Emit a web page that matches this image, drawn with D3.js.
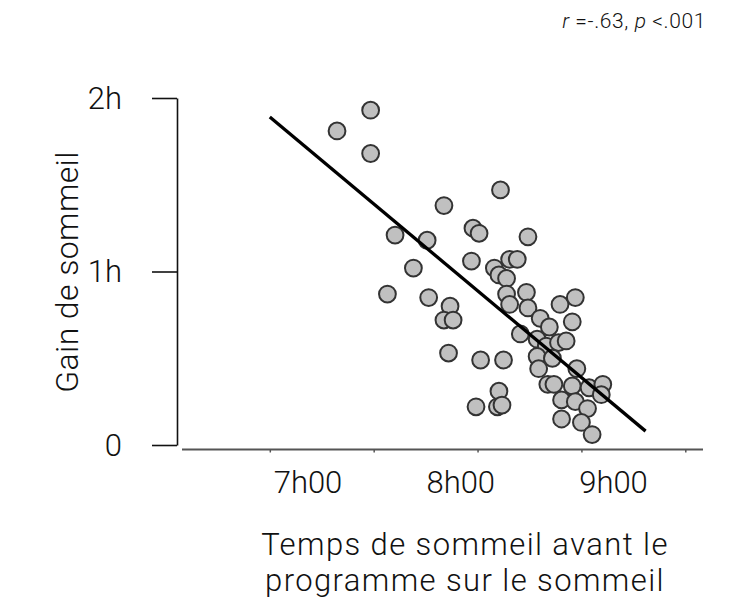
<!DOCTYPE html>
<html>
<head>
<meta charset="utf-8">
<script src="https://cdn.jsdelivr.net/npm/d3@7"></script>
<style>
  body { margin: 0; background: #fff; }
  svg { font-family: Roboto, "Liberation Sans", sans-serif; font-weight: 300; }
</style>
</head>
<body>
<div id="chart"></div>
<script>
// sleep before the programme (hours) vs sleep gained (hours)
const sleepBefore = [7.41, 7.19, 7.41, 7.57, 7.78, 7.69, 7.52, 7.79, 7.93, 7.89,
  7.95, 7.92, 8.13, 8.28, 8.25, 8.10, 8.24, 8.27, 8.26, 7.89,
  8.08, 8.12, 8.44, 8.07, 8.22, 8.32, 8.37, 8.25, 8.30, 8.30,
  8.43, 8.32, 8.44, 8.52, 8.58, 8.65, 8.75, 8.73, 8.39, 8.50,
  8.56, 8.64, 8.69, 8.50, 8.60, 8.51, 8.76, 8.57, 8.61, 8.73,
  8.84, 8.93, 8.92, 8.66, 8.75, 8.83, 8.66, 8.79, 8.86];
const sleepGain = [1.93, 1.81, 1.68, 1.21, 1.18, 1.02, 0.87, 0.85, 0.80, 0.72,
  0.72, 0.53, 0.49, 0.49, 0.31, 0.22, 0.22, 0.23, 1.47, 1.38,
  1.25, 1.22, 1.20, 1.06, 1.02, 1.07, 1.07, 0.98, 0.96, 0.87,
  0.88, 0.81, 0.79, 0.73, 0.68, 0.81, 0.85, 0.71, 0.64, 0.61,
  0.57, 0.59, 0.60, 0.51, 0.50, 0.44, 0.44, 0.35, 0.35, 0.34,
  0.33, 0.35, 0.29, 0.26, 0.25, 0.21, 0.15, 0.13, 0.06];

// fitted line end points
const fitX = [6.75, 9.21];
const fitY = [1.89, 0.08];

const xTickMarks = [6.75, 7.43, 8.11, 8.79, 9.47];
const xLabelValues = [7, 8, 9];
const xLabels = ['7h00', '8h00', '9h00'];
const yTickValues = [0, 1, 2];
const yLabels = ['0', '1h', '2h'];
const xTitle = ['Temps de sommeil avant le', 'programme sur le sommeil'];

const width = 733, height = 602;

const x = d3.scaleLinear().domain([7, 9]).range([308, 613.5]);
const y = d3.scaleLinear().domain([0, 2]).range([445, 98]);

const svg = d3.select('#chart').append('svg')
    .attr('width', width)
    .attr('height', height);

// y axis
const yAxis = svg.append('g')
    .attr('transform', 'translate(177,0)')
    .call(d3.axisLeft(y).tickValues(yTickValues).tickSize(25).tickFormat('').tickSizeOuter(0));
yAxis.select('.domain').attr('stroke', '#111').attr('stroke-width', 1.6);
yAxis.selectAll('.tick line').attr('stroke', '#111').attr('stroke-width', 1.6);

svg.append('g').selectAll('text')
    .data(yTickValues)
    .join('text')
    .attr('x', 122)
    .attr('y', d => y(d))
    .attr('dy', '0.35em')
    .attr('text-anchor', 'end')
    .attr('font-size', 31)
    .attr('fill', '#111')
    .text((d, i) => yLabels[i]);

// x axis (tick marks only, labels placed separately)
const xAxis = svg.append('g')
    .attr('transform', 'translate(0,449.5)')
    .call(d3.axisBottom(x).tickValues(xTickMarks).tickSize(3).tickFormat('').tickSizeOuter(0));
xAxis.select('.domain').remove();
xAxis.append('line')
    .attr('x1', 182).attr('x2', 703)
    .attr('stroke', '#555').attr('stroke-width', 2);
xAxis.selectAll('.tick line').attr('stroke', '#555').attr('stroke-width', 1.5);

svg.append('g').selectAll('text')
    .data(xLabelValues)
    .join('text')
    .attr('x', d => x(d))
    .attr('y', 493)
    .attr('text-anchor', 'middle')
    .attr('font-size', 31)
    .attr('fill', '#111')
    .text((d, i) => xLabels[i]);

// points
const points = sleepBefore.map((v, i) => ({ x: v, y: sleepGain[i] }));
svg.append('g').selectAll('circle')
    .data(points)
    .join('circle')
    .attr('cx', d => x(d.x))
    .attr('cy', d => y(d.y))
    .attr('r', 8.4)
    .attr('fill', '#c0c0c0')
    .attr('stroke', '#333')
    .attr('stroke-width', 2);

// regression line
svg.append('line')
    .attr('x1', x(fitX[0])).attr('y1', y(fitY[0]))
    .attr('x2', x(fitX[1])).attr('y2', y(fitY[1]))
    .attr('stroke', '#000')
    .attr('stroke-width', 3.3);

// axis titles
svg.append('text')
    .attr('transform', 'translate(78,272) rotate(-90)')
    .attr('text-anchor', 'middle')
    .attr('font-size', 32)
    .attr('letter-spacing', 0.4)
    .attr('fill', '#111')
    .text('Gain de sommeil');

svg.append('g').selectAll('text')
    .data(xTitle)
    .join('text')
    .attr('x', 465)
    .attr('y', (d, i) => 555 + i * 36)
    .attr('text-anchor', 'middle')
    .attr('font-size', 31)
    .attr('letter-spacing', 1.4)
    .attr('fill', '#111')
    .text(d => d);

// stats note
const note = svg.append('text')
    .attr('x', 706).attr('y', 28)
    .attr('text-anchor', 'end')
    .attr('font-size', 21)
    .attr('letter-spacing', 0.6)
    .attr('fill', '#111');
note.append('tspan').attr('font-style', 'italic').text('r');
note.append('tspan').text(' =-.63, ');
note.append('tspan').attr('font-style', 'italic').text('p');
note.append('tspan').text(' <.001');
</script>
</body>
</html>
